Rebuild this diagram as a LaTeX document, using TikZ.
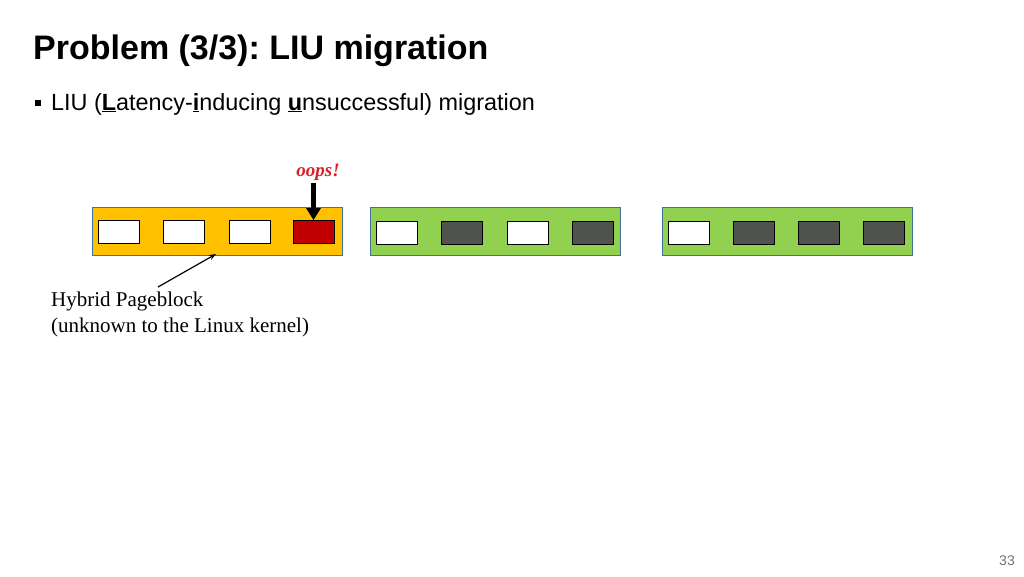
\documentclass[tikz,border=0pt]{standalone}
\usepackage{fontspec}
\setmainfont{Liberation Serif}
\setsansfont{Liberation Sans}
\frenchspacing
\usetikzlibrary{arrows.meta}
\definecolor{yy}{RGB}{255, 192, 0}
\definecolor{gg}{RGB}{146, 208, 80}
\definecolor{rr}{RGB}{192, 0, 0}
\definecolor{dd}{RGB}{80, 82, 78}
\definecolor{bb}{RGB}{65, 113, 156}
\definecolor{oo}{RGB}{220, 30, 40}

\begin{document}
\begin{tikzpicture}[x=1pt, y=-1pt,
  block/.style={rectangle, minimum width=250pt, minimum height=48pt, inner sep=0pt, line width=0.8pt, draw=bb},
  page/.style={rectangle, minimum width=41pt, minimum height=23pt, inner sep=0pt, line width=0.8pt, draw=black},
  every node/.style={inner sep=0pt}]
\useasboundingbox (0,0) rectangle (1024,576);
\node (title) [anchor=base west, font=\sffamily\bfseries\fontsize{34}{40}\selectfont] at (33, 59.5) {Problem (3/3): LIU migration};
\node (dot) [rectangle, minimum size=6.5pt, fill=black] at (38, 103) {};
\node (item) [anchor=base west, font=\sffamily\fontsize{23.4}{28}\selectfont] at (51, 110) {LIU (\underline{\textbf{L}}atency-\underline{\textbf{i}}nducing \underline{\textbf{u}}nsuccessful) migration};
\node (b1) [block, fill=yy] at (217, 231) {};
\node (b2) [block, fill=gg] at (495.5, 231.5) {};
\node (b3) [block, fill=gg] at (787.5, 231.5) {};
\node (p11) [page, fill=white] at (119, 232) {};
\node (p12) [page, fill=white] at (184, 232) {};
\node (p13) [page, fill=white] at (250, 232) {};
\node (p14) [page, fill=rr] at (314, 232) {};
\node (p21) [page, fill=white] at (397, 232.5) {};
\node (p22) [page, fill=dd] at (462, 232.5) {};
\node (p23) [page, fill=white] at (528, 232.5) {};
\node (p24) [page, fill=dd] at (593, 232.5) {};
\node (p31) [page, fill=white] at (689, 232.5) {};
\node (p32) [page, fill=dd] at (754, 232.5) {};
\node (p33) [page, fill=dd] at (819, 232.5) {};
\node (p34) [page, fill=dd] at (884, 232.5) {};
\node (oops) [text=oo, font=\bfseries\itshape\fontsize{19}{22}\selectfont] at (318, 172) {oops!};
\node (hyb) [anchor=north west, align=left, font=\fontsize{21}{26}\selectfont] at (51, 292) {Hybrid Pageblock\\(unknown to the Linux kernel)};
\node (num) [text=black!55, font=\sffamily\fontsize{14}{16}\selectfont] at (1007, 561) {33};
\coordinate (tip) at (216, 254);
\coordinate (tail) at (158, 287);
\coordinate (drop) at (313.5, 183);
\draw [line width=4.5pt, -{Triangle[length=12pt, width=14pt]}] (drop) to (drop |- p14.north);
\draw [line width=1.2pt, -{Stealth[length=7pt]}] (tail) to (tip);
\end{tikzpicture}
\end{document}
